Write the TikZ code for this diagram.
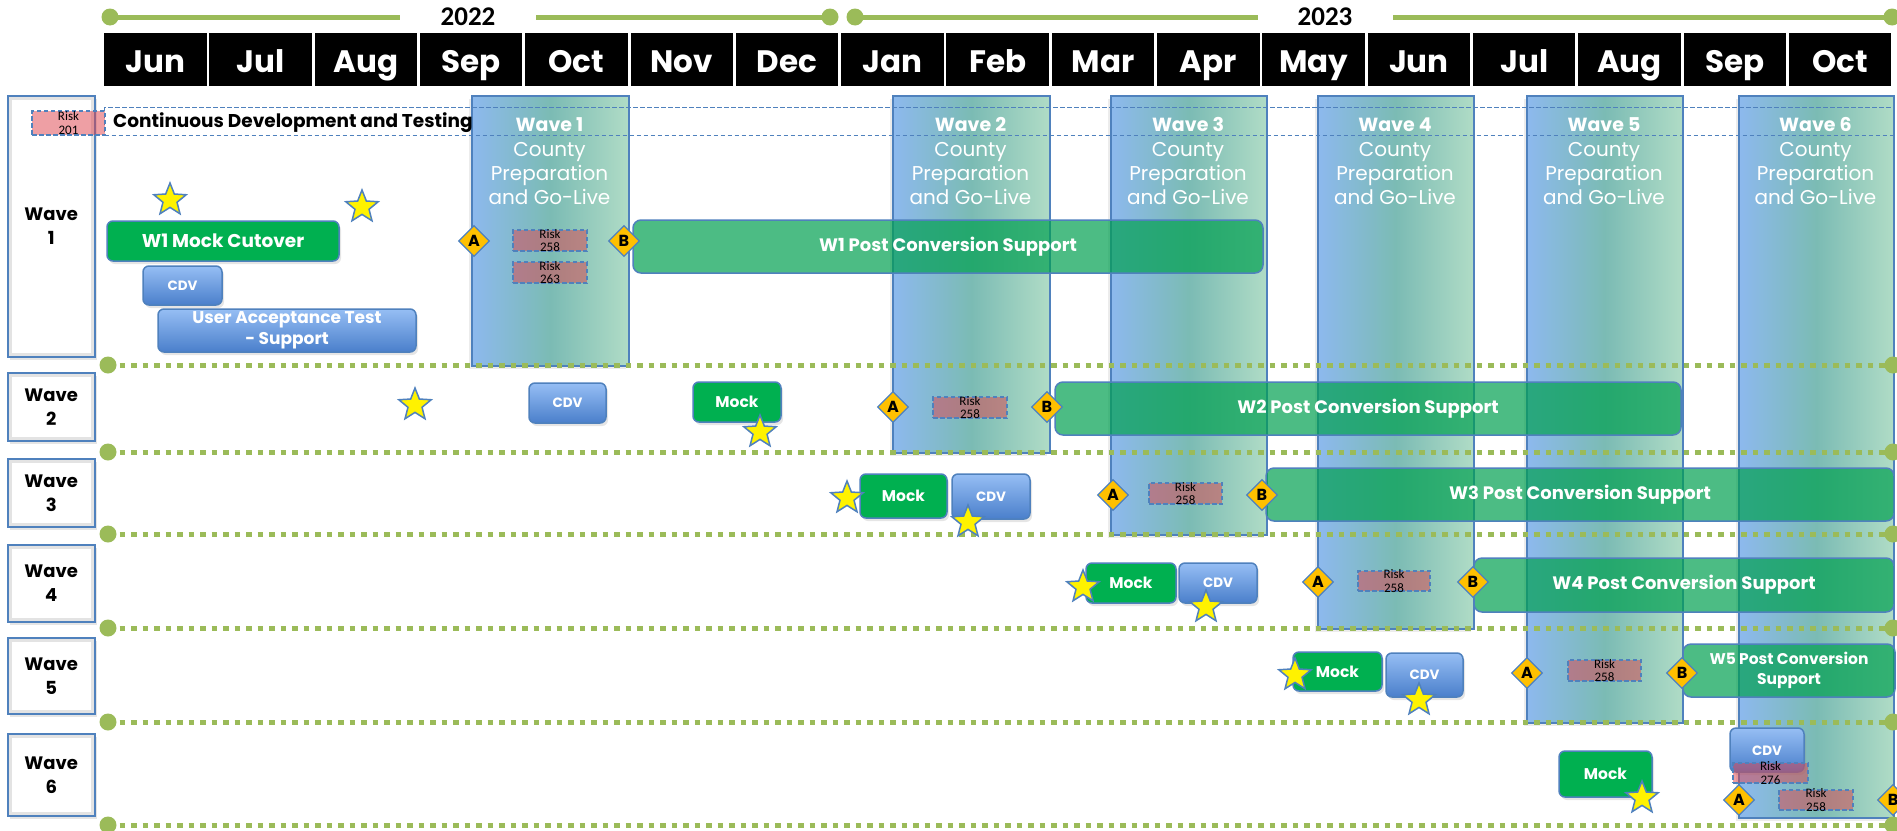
\documentclass[tikz,border=0pt]{standalone}
\usepackage{fontspec}
\setmainfont{Poppins}
\newfontfamily\calib{Carlito}
\usetikzlibrary{shapes.geometric,shadows}
\definecolor{olive}{HTML}{9BBB59}
\definecolor{bline}{HTML}{4F81BD}
\definecolor{mockg}{HTML}{00B050}
\definecolor{postg}{HTML}{00A050}
\definecolor{bandl}{HTML}{8DB9EE}
\definecolor{bandm}{HTML}{7BBBB4}
\definecolor{bandr}{HTML}{B0DCC6}
\definecolor{riskc}{HTML}{DF414B}
\definecolor{diamc}{HTML}{FFC000}
\definecolor{cdvt}{HTML}{96BEF4}
\definecolor{cdvb}{HTML}{4A7FCB}
\newcommand\fsz[2]{\fontsize{#1}{#2}\selectfont}
\newcommand\bandlabel[3]{%
  \node[bandtxt,font=\fsz{19}{22}\bfseries,text height=13.5pt] (#1a) at (#2,125) {Wave #3};
  \node[bandtxt] (#1b) at (#2,149) {County};
  \node[bandtxt] (#1c) at (#2,173) {Preparation};
  \node[bandtxt] (#1d) at (#2,197) {and Go-Live};}
\begin{document}
\begin{tikzpicture}[x=1pt,y=-1pt,
  dot/.style={circle,fill=olive,minimum size=17pt,inner sep=0pt},
  tline/.style={olive,line width=5pt},
  year/.style={font=\calib\fsz{27}{30}\bfseries,inner sep=0pt,text height=17pt,text depth=0pt},
  month/.style={fill=black,text=white,font=\fsz{31}{34}\bfseries,minimum width=102.5pt,minimum height=53pt,inner sep=0pt,text height=26pt,text depth=0pt},
  wlab/.style={draw=bline,line width=1.5pt,fill=white,anchor=north west,minimum width=87pt,inner sep=0pt,drop shadow={opacity=.2,shadow xshift=2pt,shadow yshift=-3pt}},
  wlabt/.style={align=center,font=\fsz{18}{24}\bfseries,inner sep=0pt},
  band/.style={draw=bline,line width=1.5pt,left color=bandl,right color=bandr,middle color=bandm,anchor=north west,inner sep=0pt,drop shadow={opacity=.15,shadow xshift=-3pt,shadow yshift=-3pt}},
  bandtxt/.style={text=white,inner sep=0pt,text height=14pt,text depth=0pt,font=\fsz{20}{24}},
  dotline/.style={olive,line width=5pt,dash pattern=on 5.5pt off 6pt},
  dsh/.style={dash pattern=on 4.5pt off 2.5pt},
  post/.style={draw=bline,line width=1.5pt,fill=postg,fill opacity=.7,text opacity=1,rounded corners=8pt,text=white,font=\fsz{18}{20}\bfseries,inner sep=0pt,align=center},
  mock/.style={draw=bline,line width=1.5pt,fill=mockg,rounded corners=6pt,text=white,font=\fsz{15.5}{18}\bfseries,inner sep=0pt,align=center,drop shadow={opacity=.2,shadow xshift=2pt,shadow yshift=-3pt}},
  cdv/.style={draw=bline,line width=1.5pt,top color=cdvt,bottom color=cdvb,rounded corners=6pt,text=white,font=\fsz{13.5}{16}\bfseries,inner sep=0pt,align=center,drop shadow={opacity=.2,shadow xshift=2pt,shadow yshift=-3pt}},
  risk/.style={draw=bline,dsh,line width=1.3pt,fill=riskc,fill opacity=.5,inner sep=0pt},
  risktxt/.style={align=center,font=\calib\fsz{13}{13.5},inner sep=0pt},
  diam/.style={diamond,draw=bline,fill=diamc,line width=1.3pt,minimum width=31pt,minimum height=31pt,inner sep=0pt,font=\fsz{16}{16}\bfseries},
  starn/.style={star,star points=5,star point ratio=2.3,draw=bline,fill=yellow,line width=1.5pt,minimum size=34pt,inner sep=0pt}
]
\useasboundingbox (0,0) rectangle (1897,830);
\fill[white] (0,0) rectangle (1897,830);

% timeline
\node[dot] (t1) at (110,17) {};
\coordinate (t1e) at (400,17);
\node[year] (y22) at (468,17) {2022};
\coordinate (t2s) at (536,17);
\node[dot] (t2) at (830,17) {};
\node[dot] (t3) at (855,17) {};
\coordinate (t3e) at (1258,17);
\node[year] (y23) at (1325,17) {2023};
\coordinate (t4s) at (1393,17);
\node[dot] (t4) at (1892,17) {};
\draw[tline] (t1.center) -- (t1e);
\draw[tline] (t2s) -- (t2.center);
\draw[tline] (t3.center) -- (t3e);
\draw[tline] (t4s) -- (t4.center);

% months
\foreach \m [count=\i from 0] in {Jun,Jul,Aug,Sep,Oct,Nov,Dec,Jan,Feb,Mar,Apr,May,Jun,Jul,Aug,Sep,Oct}{
  \node[month] (m\i) at ({104+105.3*\i+51.25},59.5) {\m};
}

% wave labels
\foreach \n/\y/\h in {1/95/261,2/372/68,3/458/68,4/544/77,5/637/76,6/733/82}{
  \node[wlab,minimum height=\h pt] (w\n) at (7,\y) {};
  \draw[gray!22,line width=3pt] ([shift={(3.5,3.5)}]w\n.north west) rectangle ([shift={(-3.5,-3.5)}]w\n.south east);
  \node[wlabt] (wt\n) at (w\n.center) {Wave\\\n};
}

% bands
\node[band,minimum width=157pt,minimum height=270pt] (b1) at (471,95) {};
\node[band,minimum width=157pt,minimum height=357pt] (b2) at (892,95) {};
\node[band,minimum width=156pt,minimum height=439pt] (b3) at (1110,95) {};
\node[band,minimum width=156pt,minimum height=533pt] (b4) at (1317,95) {};
\node[band,minimum width=156pt,minimum height=627pt] (b5) at (1526,95) {};
\node[band,minimum width=155pt,minimum height=722pt] (b6) at (1738,95) {};

% continuous development
\node[draw=bline,dsh,line width=1.3pt,anchor=north west,minimum width=1789pt,minimum height=28pt,inner sep=0pt] (cd) at (104,107) {};
\node[anchor=west,inner sep=0pt,font=\fsz{18.5}{20}\bfseries,text height=13pt,text depth=0pt] (cdt) at (113,121) {Continuous Development and Testing};
\node[risk,minimum width=73pt,minimum height=24pt] (r201) at (68.5,123) {};
\node[risktxt] (r201t) at (r201.center) {Risk\\201};

% band texts
\bandlabel{bl1}{549.5}{1}
\bandlabel{bl2}{970.5}{2}
\bandlabel{bl3}{1188}{3}
\bandlabel{bl4}{1395}{4}
\bandlabel{bl5}{1604}{5}
\bandlabel{bl6}{1815.5}{6}

% dotted separators
\foreach \k/\y in {1/365,2/452,3/534,4/628,5/722,6/825}{
  \node[dot] (da\k) at (108,\y) {};
  \node[dot] (db\k) at (1893,\y) {};
  \draw[dotline] (da\k.center) -- (db\k.center);
}

% post conversion support boxes
\node[post,minimum width=630pt,minimum height=53pt] (p1) at (948,246.5) {W1 Post Conversion Support};
\node[post,minimum width=626pt,minimum height=53pt] (p2) at (1368,408.5) {W2 Post Conversion Support};
\node[post,minimum width=628pt,minimum height=53pt] (p3) at (1580,494.5) {W3 Post Conversion Support};
\node[post,minimum width=420pt,minimum height=54pt] (p4) at (1684,585) {W4 Post Conversion Support};
\node[post,minimum width=212pt,minimum height=53pt,font=\fsz{15.5}{20}\bfseries] (p5) at (1789,670.5) {W5 Post Conversion\\Support};

% wave 1 row
\node[mock,minimum width=232pt,minimum height=40pt,font=\fsz{18.5}{20}\bfseries] (mk1) at (223,241) {W1 Mock Cutover};
\node[cdv,minimum width=79pt,minimum height=39pt] (cv1) at (182.5,285.5) {CDV};
\node[cdv,minimum width=258pt,minimum height=43pt,font=\fsz{17}{21}\bfseries] (uat) at (287,330.5) {User Acceptance Test\\- Support};
\node[risk,minimum width=74pt,minimum height=21pt] (r1a) at (550,240.5) {};
\node[risktxt] (r1at) at (r1a.center) {Risk\\258};
\node[risk,minimum width=74pt,minimum height=21pt] (r1b) at (550,272.5) {};
\node[risktxt] (r1bt) at (r1b.center) {Risk\\263};
\node[diam] (a1) at (474,241) {A};
\node[diam] (bb1) at (624,241) {B};
\node[starn] (s1a) at (170,200) {};
\node[starn] (s1b) at (362,207) {};

% wave 2 row
\node[cdv,minimum width=77pt,minimum height=40pt] (cv2) at (567.5,403) {CDV};
\node[mock,minimum width=88pt,minimum height=40pt] (mk2) at (737,402) {Mock};
\node[risk,minimum width=74pt,minimum height=21pt] (r2) at (970,407.5) {};
\node[risktxt] (r2t) at (r2.center) {Risk\\258};
\node[diam] (a2) at (893,407) {A};
\node[diam] (bb2) at (1047,407) {B};
\node[starn] (s2a) at (415,405) {};
\node[starn] (s2b) at (760,432) {};

% wave 3 row
\node[mock,minimum width=87pt,minimum height=44pt] (mk3) at (903.5,496) {Mock};
\node[cdv,minimum width=78pt,minimum height=45pt] (cv3) at (991,496.5) {CDV};
\node[risk,minimum width=73pt,minimum height=21pt] (r3) at (1185.5,493.5) {};
\node[risktxt] (r3t) at (r3.center) {Risk\\258};
\node[diam] (a3) at (1113,495) {A};
\node[diam] (bb3) at (1262,495) {B};
\node[starn] (s3a) at (847,498) {};
\node[starn] (s3b) at (968,522) {};

% wave 4 row
\node[mock,minimum width=90pt,minimum height=40pt] (mk4) at (1131,583) {Mock};
\node[cdv,minimum width=78pt,minimum height=40pt] (cv4) at (1218,583) {CDV};
\node[risk,minimum width=72pt,minimum height=20pt] (r4) at (1394,581) {};
\node[risktxt] (r4t) at (r4.center) {Risk\\258};
\node[diam] (a4) at (1318,582) {A};
\node[diam] (bb4) at (1473,582) {B};
\node[starn] (s4a) at (1083,587) {};
\node[starn] (s4b) at (1206,607) {};

% wave 5 row
\node[mock,minimum width=89pt,minimum height=39pt] (mk5) at (1337.5,671.5) {Mock};
\node[cdv,minimum width=77pt,minimum height=44pt] (cv5) at (1424.5,675) {CDV};
\node[risk,minimum width=73pt,minimum height=21pt] (r5) at (1604.5,670.5) {};
\node[risktxt] (r5t) at (r5.center) {Risk\\258};
\node[diam] (a5) at (1527,673) {A};
\node[diam] (bb5) at (1682,673) {B};
\node[starn] (s5a) at (1295,675) {};
\node[starn] (s5b) at (1419,700) {};

% wave 6 row
\node[mock,minimum width=93pt,minimum height=46pt] (mk6) at (1605.5,774) {Mock};
\node[cdv,minimum width=74pt,minimum height=44pt] (cv6) at (1767,750) {};
\node[font=\fsz{13.5}{16}\bfseries,text=white,inner sep=0pt] (cv6t) at (1767,751) {CDV};
\node[risk,minimum width=75pt,minimum height=20pt] (r6a) at (1770.5,773) {};
\node[risktxt] (r6at) at (r6a.center) {Risk\\276};
\node[risk,minimum width=74pt,minimum height=20pt] (r6b) at (1816,800) {};
\node[risktxt] (r6bt) at (r6b.center) {Risk\\258};
\node[diam] (a6) at (1739,800) {A};
\node[diam] (bb6) at (1893,800) {B};
\node[starn] (s6a) at (1642,798) {};
\end{tikzpicture}
\end{document}
